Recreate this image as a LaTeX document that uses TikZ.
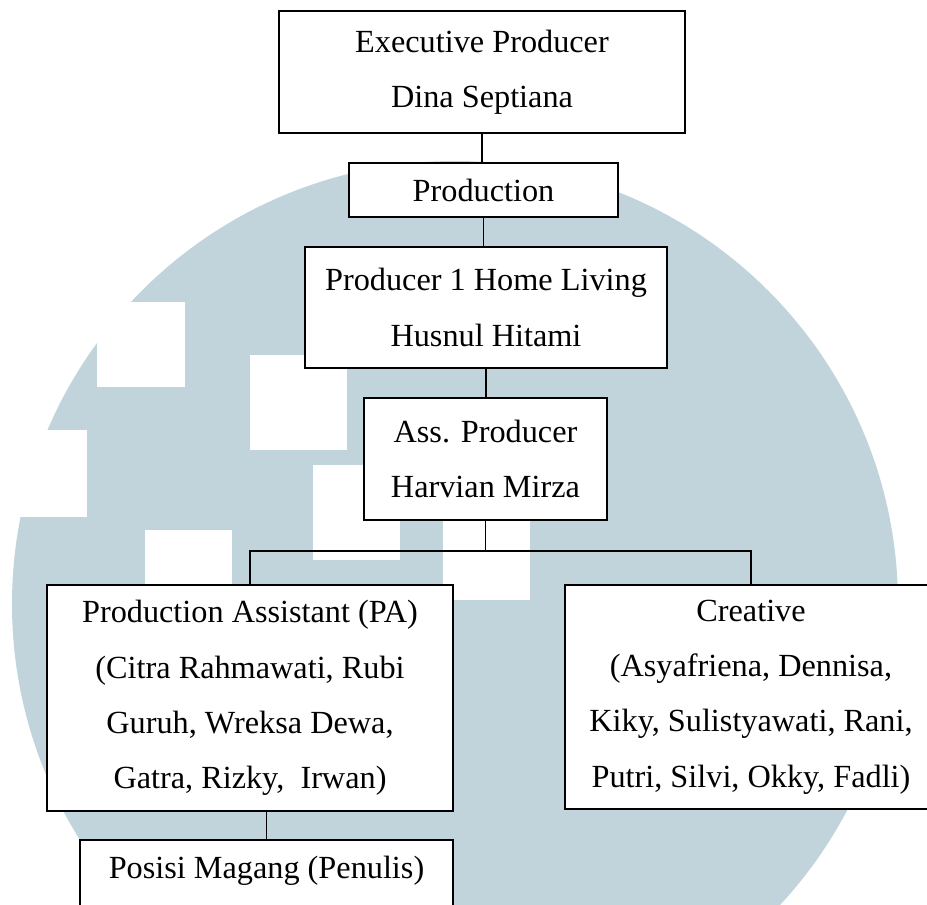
\documentclass[tikz,border=0pt]{standalone}
\usepackage{fontspec}
\setmainfont{Liberation Serif}
\usepackage{tikz}

\begin{document}
\begin{tikzpicture}[x=0.75pt,y=0.75pt,yscale=-1,xscale=1,
  box/.style={draw=black, fill=white, line width=1.3pt, align=center, inner sep=0pt,
    font=\fontsize{24.2}{41.5}\selectfont},
  link/.style={draw=black, line width=1pt},
  wm/.style={fill={rgb, 255:red, 193; green, 212; blue, 219 }}]
\useasboundingbox (0,0) rectangle (927,905);
\clip (0,0) rectangle (927,905);

%Shape: Circle [watermark]
\fill[wm] (455,604) circle (443);
%Shape: Square [notches and holes of the watermark]
\fill[white] (97,302) rectangle (185,387);
\fill[white] (0,430) rectangle (87,517);
\fill[white] (250,355) rectangle (347,450);
\fill[white] (313,465) rectangle (400,560);
\fill[white] (145,530) rectangle (232,600);
\fill[white] (443,520) rectangle (530,600);

% Text Node
\node[box, minimum width=304.5pt, minimum height=91.5pt] (exec) at (482,72) {Executive Producer\\Dina Septiana};
% Text Node
\node[box, minimum width=201.75pt, minimum height=40.5pt] (prod) at (483.5,190) {Production};
% Text Node
\node[box, minimum width=271.5pt, minimum height=90.75pt] (host) at (486,307.5) {Producer 1 Home Living\\Husnul Hitami};
% Text Node
\node[box, minimum width=182.25pt, minimum height=91.5pt] (ass) at (485.5,459) {Ass. Producer\\Harvian Mirza};
% Text Node
\node[box, minimum width=304.5pt, minimum height=169.5pt] (pa) at (250,698) {Production Assistant (PA)\\(Citra Rahmawati, Rubi\\Guruh, Wreksa Dewa,\\Gatra, Rizky, \ Irwan)};
% Text Node
\node[box, minimum width=279pt, minimum height=168pt] (cre) at (751,697) {Creative\\(Asyafriena, Dennisa,\\Kiky, Sulistyawati, Rani,\\Putri, Silvi, Okky, Fadli)};
% Text Node
\node[box, minimum width=279.75pt, anchor=north, inner ysep=12.75pt, text height=16.5pt, text depth=60pt] (mag) at (266.5,839) {Posisi Magang (Penulis)};

%Straight Lines
\draw[link] (exec.south) -- (exec.south |- prod.north);
\draw[link] (prod.south) -- (prod.south |- host.north);
\draw[link] (host.south) -- (host.south |- ass.north);
\coordinate (bar) at (484,551);
\draw[link] (ass.south) -- (ass.south |- bar);
\draw[link] (pa.north) |- (bar) -| (cre.north);
\draw[link] (pa.south -| mag.north) -- (mag.north);

\end{tikzpicture}
\end{document}
